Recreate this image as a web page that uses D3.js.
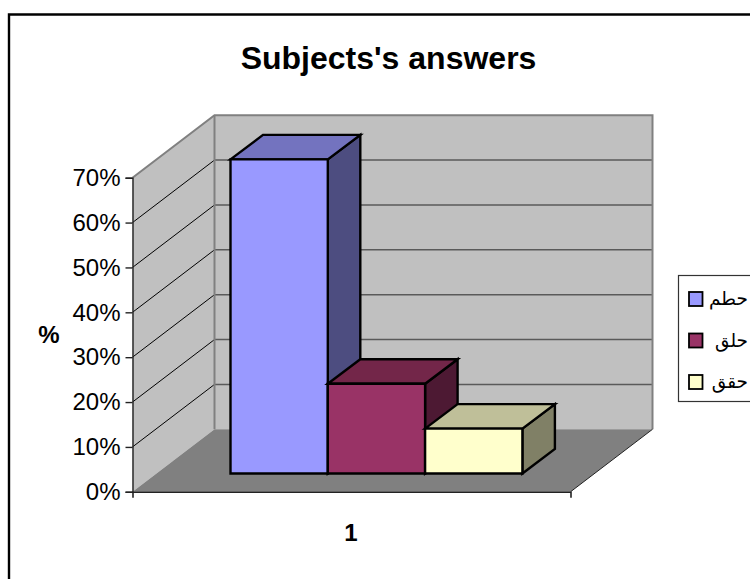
<!DOCTYPE html>
<html><head><meta charset="utf-8">
<script src="https://cdn.jsdelivr.net/npm/d3@7/dist/d3.min.js"></script>
<style>html,body{margin:0;padding:0;background:#fff;overflow:hidden}svg{display:block}text{font-family:"Liberation Sans",Arial,sans-serif;fill:#000}</style>
</head><body><svg id="c" width="750" height="579"></svg>
<script>
const title = "Subjects's answers";
const category = ["1"];
const series = ["حطم","حلق","حقق"];
const values = [70,20,10];
const yTicks = [0,10,20,30,40,50,60,70];
const front = ["#9999FF","#993366","#FFFFCC"];
const top3 = ["#7373BF","#732649","#BFBF99"];
const side = ["#4D4D80","#4D1933","#808066"];

const svg = d3.select("#c");
const L=132.5,R=570.5,Y0=491.8,Y70=177.7, DX=82, DY=62.5;
const y = d3.scaleLinear().domain([0,70]).range([Y0,Y70]);
const xCat = d3.scaleBand().domain(category).range([L,R]);

svg.append("path").attr("d","M9,579V14.5H750").attr("fill","none").attr("stroke","#000").attr("stroke-width",2.4);
svg.append("text").attr("x",388.5).attr("y",69).attr("text-anchor","middle").attr("font-size",32).attr("font-weight","bold").text(title);

const poly=(pts,fill,stroke,sw)=>svg.append("polygon").attr("points",pts.map(p=>p.join(",")).join(" ")).attr("fill",fill).attr("stroke",stroke||"none").attr("stroke-width",sw||0).attr("stroke-linejoin","miter");
poly([[L,y(70)],[L+DX,y(70)-DY],[L+DX,y(0)-DY],[L,y(0)]],"#C0C0C0");
poly([[L+DX,y(70)-DY],[R+DX,y(70)-DY],[R+DX,y(0)-DY],[L+DX,y(0)-DY]],"#C0C0C0");
poly([[L,y(0)],[L+DX,y(0)-DY],[R+DX,y(0)-DY],[R,y(0)]],"#808080");
yTicks.slice(1,-1).forEach(t=>{
  svg.append("line").attr("x1",L).attr("y1",y(t)).attr("x2",L+DX).attr("y2",y(t)-DY).attr("stroke","#000").attr("stroke-width",1);
  svg.append("line").attr("x1",L+DX).attr("y1",y(t)-DY).attr("x2",R+DX).attr("y2",y(t)-DY).attr("stroke","#5a5a5a").attr("stroke-width",1.4);
});
svg.append("path").attr("d",`M${L},${y(70)}L${L+DX},${y(70)-DY}H${R+DX}V${y(0)-DY}`).attr("fill","none").attr("stroke","#808080").attr("stroke-width",2);
svg.append("path").attr("d",`M${L+DX},${y(70)-DY}V${y(0)-DY}`).attr("fill","none").attr("stroke","#808080").attr("stroke-width",2);
svg.append("line").attr("x1",R).attr("y1",y(0)).attr("x2",R+DX).attr("y2",y(0)-DY).attr("stroke","#222").attr("stroke-width",1);

const bx0=230.5, bw=97.3, shiftY=18.3, bdx=32.5, bdy=24.5;
const xBar = d3.scaleBand().domain(series).range([bx0,bx0+bw*3]);
series.forEach((s,i)=>{
  const x0=xBar(s), x1=x0+xBar.bandwidth(), yb=y(0)-shiftY, yt=y(values[i])-shiftY;
  poly([[x1,yt],[x1+bdx,yt-bdy],[x1+bdx,yb-bdy],[x1,yb]],side[i],"#000",2.4);
  poly([[x0,yt],[x0+bdx,yt-bdy],[x1+bdx,yt-bdy],[x1,yt]],top3[i],"#000",2.4);
  poly([[x0,yt],[x1,yt],[x1,yb],[x0,yb]],front[i],"#000",2.4);
});

const axY=d3.axisLeft(y).tickValues(yTicks).tickFormat(d=>d+"%").tickSize(7).tickPadding(5);
const gy=svg.append("g").attr("transform",`translate(${L},0)`).call(axY);
gy.selectAll("text").attr("font-size",24).attr("font-family","Liberation Sans");
gy.selectAll("line,path").attr("stroke","#222").attr("stroke-width",1.4);
const axX=d3.axisBottom(xCat).tickValues([]).tickSizeOuter(6);
const gx=svg.append("g").attr("transform",`translate(0,${Y0})`).call(axX);
gx.selectAll("path").attr("stroke","#222").attr("stroke-width",1.6).attr("fill","none");
svg.append("text").attr("x",351).attr("y",541).attr("text-anchor","middle").attr("font-size",24).attr("font-weight","bold").text(category[0]);
svg.append("text").attr("x",49).attr("y",343).attr("text-anchor","middle").attr("font-size",24).attr("font-weight","bold").text("%");

svg.append("rect").attr("x",678.5).attr("y",275.5).attr("width",90).attr("height",126).attr("fill","#fff").attr("stroke","#333").attr("stroke-width",1.2);
const ly=d3.scalePoint().domain(series).range([299,382]);
series.forEach((s,i)=>{
  svg.append("rect").attr("x",689).attr("y",ly(s)-7).attr("width",13.5).attr("height",14).attr("fill",front[i]).attr("stroke","#000").attr("stroke-width",1.8);
  svg.append("text").attr("x",748).attr("y",ly(s)+6).attr("text-anchor","end").attr("font-size",18.5).style("font-family","'Liberation Sans','DejaVu Sans',sans-serif").text(s);
});
</script></body></html>
